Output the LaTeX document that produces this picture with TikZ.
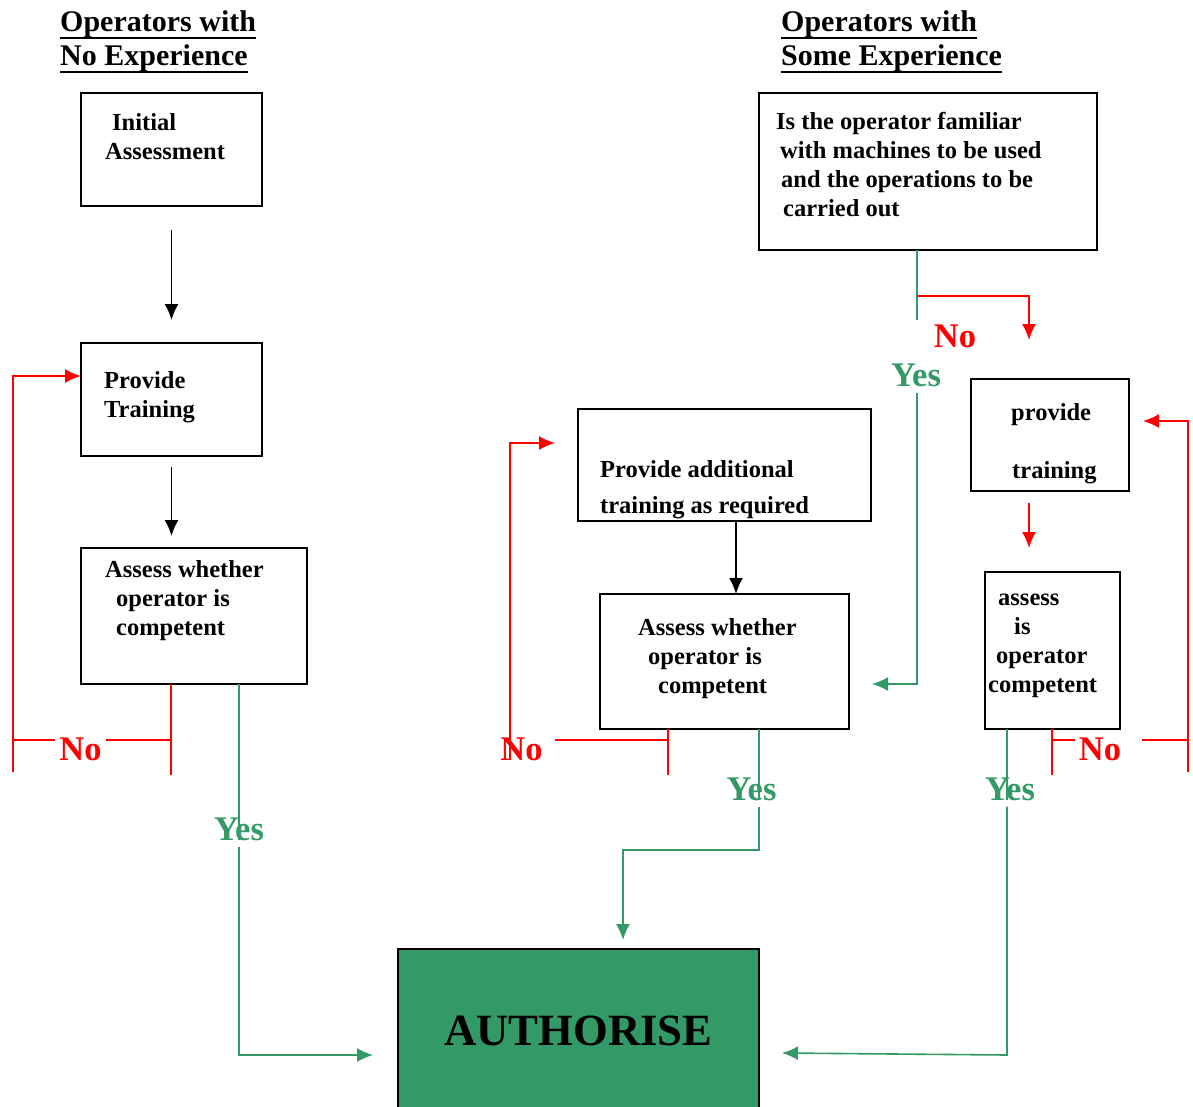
\documentclass[tikz,border=0pt]{standalone}
\usepackage{fontspec}
\setmainfont{Liberation Serif}
\usetikzlibrary{arrows.meta}
\definecolor{okgreen}{RGB}{51,153,102}
\newcommand{\hdul}[1]{\setbox0\hbox{#1}\rlap{\rule[-7.7pt]{\wd0}{2pt}}\box0}

\tikzset{
  box/.style={draw=black,line width=1.9pt,inner sep=0pt,outer sep=0pt,anchor=north west},
  txt/.style={font=\bfseries\fontsize{24.5}{29}\selectfont,align=left,inner sep=0pt,anchor=base west},
  head/.style={font=\bfseries\fontsize{30}{34}\selectfont,align=left,inner sep=0pt,anchor=base west},
  yesno/.style={font=\bfseries\fontsize{34.5}{40}\selectfont,inner xsep=4pt,inner ysep=6pt,anchor=base},
  tip/.style={-{Latex[length=16pt,width=14pt]}},
  blk/.style={draw=black,line width=1.7pt,tip},
  rd/.style={draw=red,line width=1.6pt},
  gn/.style={draw=okgreen,line width=1.6pt}
}

\begin{document}
\begin{tikzpicture}[x=1pt,y=-1pt]
\useasboundingbox (0,0) rectangle (1193,1106);

\node[head] (hdL) at (60,65) {\hdul{Operators with}\\\hdul{No Experience}};
\node[head] (hdR) at (781,65) {\hdul{Operators with}\\\hdul{Some Experience}};

\node[box,minimum width=181pt,minimum height=113pt] (init) at (81,93) {};
\node[box,minimum width=181pt,minimum height=113pt] (train) at (81,343) {};
\node[box,minimum width=226pt,minimum height=136pt] (assL) at (81,548) {};
\node[box,minimum width=293pt,minimum height=112pt] (addT) at (578,409) {};
\node[box,minimum width=249pt,minimum height=135pt] (assM) at (600,594) {};
\node[box,minimum width=338pt,minimum height=157pt] (fam) at (759,93) {};
\node[box,minimum width=158pt,minimum height=112pt] (prov) at (971,379) {};
\node[box,minimum width=135pt,minimum height=157pt] (assR) at (985,572) {};
\node[box,minimum width=361pt,minimum height=164pt,fill=okgreen,
  font=\bfseries\fontsize{44.7}{50}\selectfont] (auth) at (398,949) {AUTHORISE};

\node[txt] (initT) at (105,159) {\hspace*{7pt}Initial\\Assessment};
\node[txt] (trainT) at (104,417) {Provide\\Training};
\node[txt] (assLT) at (105,635) {Assess whether\\\hspace*{11pt}operator is\\\hspace*{11pt}competent};
\node[txt] (addTT) at (600,513) {Provide additional\\[7pt]training as required};
\node[txt] (assMT) at (638,693) {Assess whether\\\hspace*{10pt}operator is\\\hspace*{20pt}competent};
\node[txt] (famT) at (776,216) {Is the operator familiar\\\hspace*{4pt}with machines to be used\\\hspace*{5pt}and the operations to be\\\hspace*{7pt}carried out};
\node[txt] (provT) at (1011,478) {provide\\[29pt]\hspace*{1pt}training};
\node[txt] (assRT) at (988,692) {\hspace*{10pt}assess\\\hspace*{26pt}is\\\hspace*{8pt}operator\\competent};

\node[yesno,text=red] (noL) at (80.5,760) {No};
\node[yesno,text=red] (noM) at (521.5,760) {No};
\node[yesno,text=red] (noR) at (1100,760) {No};
\node[yesno,text=red] (noT) at (955,347) {No};
\node[yesno,text=okgreen] (yesL) at (239,840) {Yes};
\node[yesno,text=okgreen] (yesM) at (751.5,800) {Yes};
\node[yesno,text=okgreen] (yesR) at (1010,800) {Yes};
\node[yesno,text=okgreen] (yesT) at (916,386) {Yes};

\coordinate (tickL) at (171,775);
\coordinate (loopL) at (13,740);
\coordinate (downL) at (13,772);
\coordinate (upL) at (13,376);
\coordinate (inA) at (373,1055);
\coordinate (tickM) at (668,775);
\coordinate (loopM) at (555,740);
\coordinate (downM) at (510,760);
\coordinate (upM) at (510,443);
\coordinate (inAdd) at (555,443);
\coordinate (turnM) at (759,850);
\coordinate (inB) at (623,940);
\coordinate (forkT) at (917,296);
\coordinate (stopT) at (917,320);
\coordinate (inP) at (1029,340);
\coordinate (inMB) at (872,684);
\coordinate (tickR) at (1052,775);
\coordinate (noRin) at (1075,740);
\coordinate (noRout) at (1142,740);
\coordinate (downR) at (1188,772);
\coordinate (upR) at (1188,421);
\coordinate (inPR) at (1143,421);
\coordinate (turnR) at (1007,1055);
\coordinate (inAR) at (782,1053);

\draw[blk,shorten <=24pt,shorten >=23pt] (init) -- (train);
\draw[blk,shorten <=11pt,shorten >=12pt] (train.south) -- (train.south |- assL.north);
\draw[rd] (assL.south -| tickL) -- (tickL);
\draw[rd] (tickL |- loopL) -- (noL.east |- loopL);
\draw[rd] (noL.west |- loopL) -- (loopL);
\draw[rd,tip] (downL) -- (upL) -- (upL -| train.west);
\draw[gn] (assL.south -| yesL) -- (yesL.base);
\draw[gn,tip] (yesL.south) |- (inA);

\draw[blk] ([xshift=11.5pt]addT.south) -- ([xshift=11.5pt]addT.south |- assM.north);
\draw[rd] (assM.south -| tickM) -- (tickM);
\draw[rd] (tickM |- loopM) -- (loopM);
\draw[rd,tip] (downM) -- (upM) -- (inAdd);
\draw[gn] (assM.south -| turnM) -- (turnM |- yesM.base);
\draw[gn,tip] (turnM |- yesM.south) -- (turnM) -| (inB);

\draw[gn] (fam.south -| forkT) -- (stopT);
\draw[gn,tip] (stopT |- yesT.south) |- (inMB);
\draw[rd,tip] (forkT) -| (inP);
\draw[rd,tip,shorten <=12pt,shorten >=24pt] (prov.south -| inP) -- (assR.north -| inP);
\draw[rd] (assR.south -| tickR) -- (tickR);
\draw[rd] (tickR |- noRin) -- (noRin);
\draw[rd] (noRout) -- (noRout -| downR);
\draw[rd,tip] (downR) -- (upR) -- (inPR);
\draw[gn] (assR.south -| turnR) -- (turnR |- yesR.base);
\draw[gn,tip] (turnR |- yesR.south) -- (turnR) -- (inAR);
\end{tikzpicture}
\end{document}
